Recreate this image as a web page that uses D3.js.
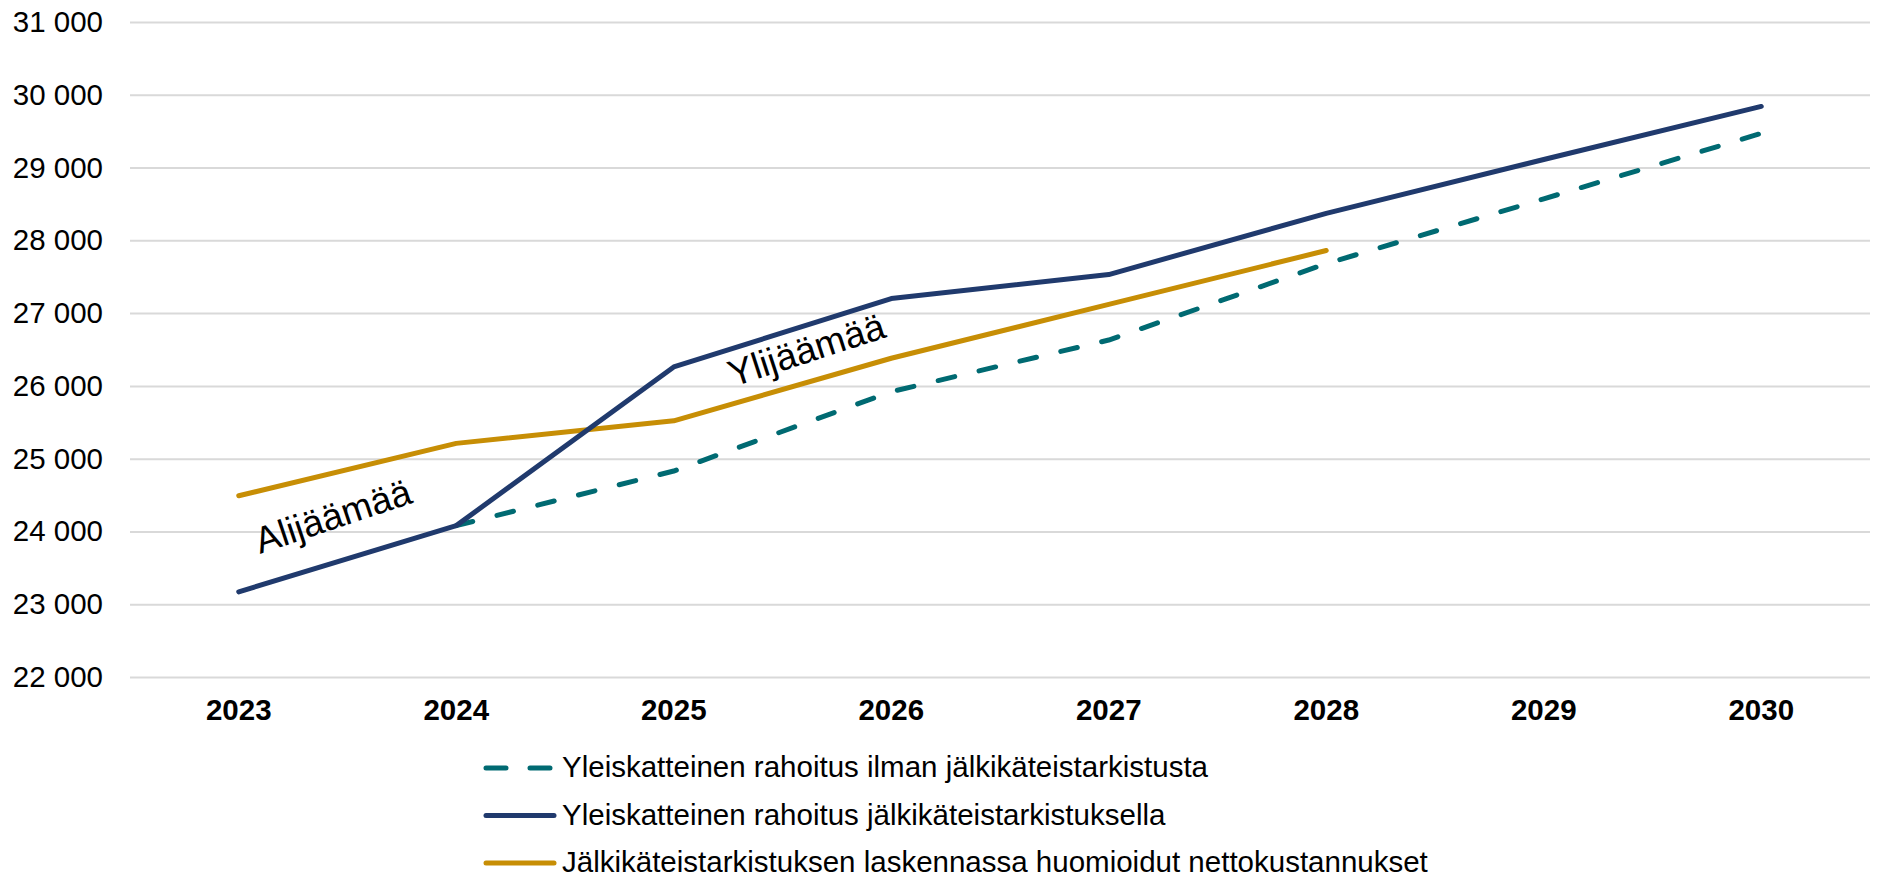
<!DOCTYPE html>
<html>
<head>
<meta charset="utf-8">
<script src="https://cdn.jsdelivr.net/npm/d3@7"></script>
<style>
  body { margin: 0; background: #fff; }
  text { font-family: Arial, "Liberation Sans", sans-serif; }
</style>
</head>
<body>
<svg id="chart" width="1878" height="878"></svg>
<script>
// years on the x axis
const years = ["2023", "2024", "2025", "2026", "2027", "2028", "2029", "2030"]

// series values (milj. €)
const ilmanTarkistusta = [null, 24080, 24830, 25920, 26630, 27680, 28570, 29470]
const tarkistuksella = [23170, 24080, 26260, 27200, 27530, 28370, 29110, 29840]
const nettokustannukset = [24490, 25210, 25520, 26380, 27120, 27860, null, null]

const yTicks = [22000, 23000, 24000, 25000, 26000, 27000, 28000, 29000, 30000, 31000]

const seriesNames = [
  "Yleiskatteinen rahoitus ilman jälkikäteistarkistusta",
  "Yleiskatteinen rahoitus jälkikäteistarkistuksella",
  "Jälkikäteistarkistuksen laskennassa huomioidut nettokustannukset"
]

const COLORS = { teal: "#006a72", navy: "#203a6d", gold: "#c78e05", grid: "#d9d9d9" }

const series = [
  { name: seriesNames[0], values: ilmanTarkistusta, color: COLORS.teal, dash: "17,25" },
  { name: seriesNames[1], values: tarkistuksella, color: COLORS.navy, dash: null },
  { name: seriesNames[2], values: nettokustannukset, color: COLORS.gold, dash: null }
]

const svg = d3.select("#chart")
const plot = { left: 130, right: 1870, top: 22, bottom: 677 }

const x = d3.scaleBand().domain(years).range([plot.left, plot.right])
const y = d3.scaleLinear().domain([22000, 31000]).range([plot.bottom, plot.top])

const fmt = v => d3.format(",")(v).replace(/,/g, " ")

// gridlines + y labels
const yAxis = d3.axisLeft(y)
  .tickValues(yTicks)
  .tickSize(-(plot.right - plot.left))
  .tickFormat(fmt)
  .tickPadding(27)

svg.append("g")
  .attr("transform", `translate(${plot.left},0)`)
  .call(yAxis)
  .call(g => g.select(".domain").remove())
  .call(g => g.selectAll(".tick line").attr("stroke", COLORS.grid).attr("stroke-width", 2))
  .call(g => g.selectAll(".tick text")
    .style("font-size", "29.5px")
    .attr("fill", "#000"))

// x labels
const xAxis = d3.axisBottom(x).tickSize(0).tickPadding(22)
svg.append("g")
  .attr("transform", `translate(0,${plot.bottom})`)
  .call(xAxis)
  .call(g => g.select(".domain").remove())
  .call(g => g.selectAll(".tick text")
    .style("font-size", "29.5px")
    .style("font-weight", 700)
    .attr("fill", "#000"))

// index-aligned line, gaps where a year has no value
const line = d3.line()
  .defined(v => v != null)
  .x((v, i) => x(years[i]) + x.bandwidth() / 2)
  .y(v => y(v))

// draw in the original stacking: teal, gold, navy
const drawOrder = [series[0], series[2], series[1]]
svg.append("g")
  .selectAll("path")
  .data(drawOrder)
  .join("path")
  .attr("d", d => line(d.values))
  .attr("fill", "none")
  .attr("stroke", d => d.color)
  .attr("stroke-width", 5)
  .attr("stroke-linecap", "round")
  .attr("stroke-linejoin", "round")
  .attr("stroke-dasharray", d => d.dash)

// annotations
svg.append("text")
  .attr("transform", "translate(260,554) rotate(-18.5)")
  .style("font-size", "37px")
  .text("Alijäämää")

svg.append("text")
  .attr("transform", "translate(733,387) rotate(-18)")
  .style("font-size", "37px")
  .text("Ylijäämää")

// legend
const legend = svg.append("g").attr("transform", "translate(486,768)")
const item = legend.selectAll("g")
  .data(series)
  .join("g")
  .attr("transform", (d, i) => `translate(0,${i * 47.5})`)

item.append("line")
  .attr("x1", 0).attr("x2", 68)
  .attr("y1", 0).attr("y2", 0)
  .attr("stroke", d => d.color)
  .attr("stroke-width", 5)
  .attr("stroke-linecap", "round")
  .attr("stroke-dasharray", d => d.dash ? "20,24" : null)

item.append("text")
  .attr("x", 76)
  .attr("dy", "0.32em")
  .style("font-size", "29.5px")
  .text(d => d.name)
</script>
</body>
</html>
